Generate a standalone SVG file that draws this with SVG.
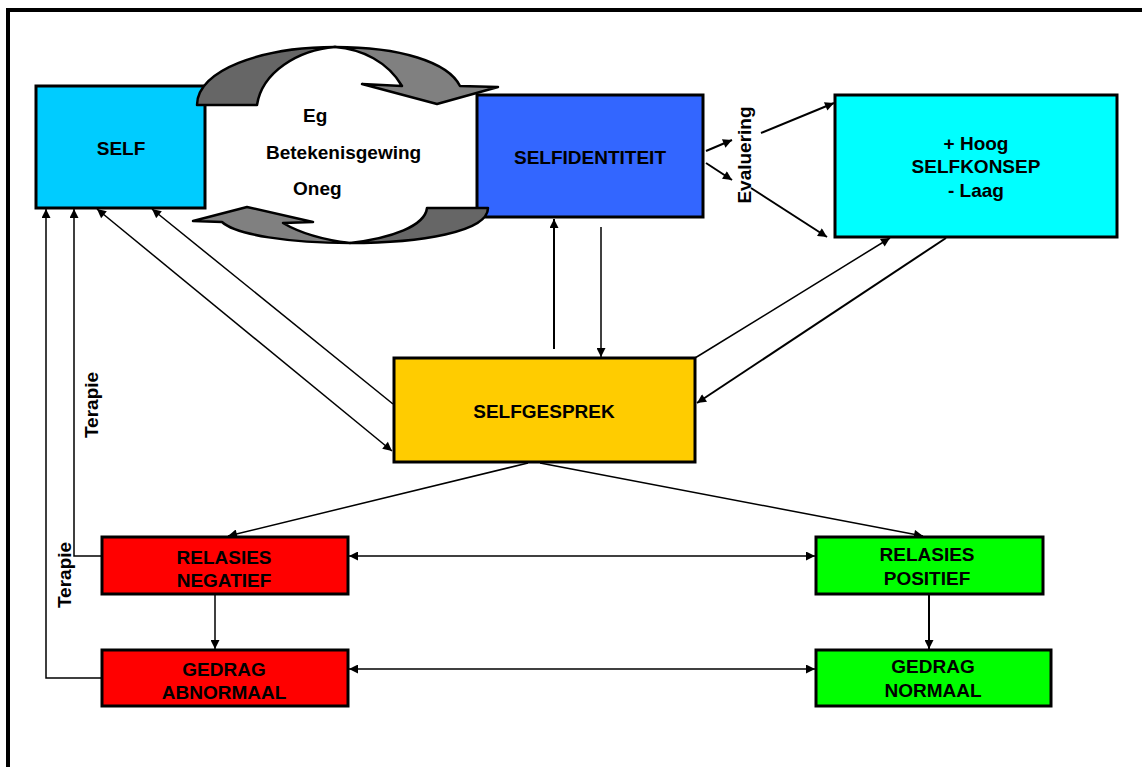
<svg xmlns="http://www.w3.org/2000/svg" width="1142" height="767" viewBox="0 0 1142 767">
  <style>
    text { font-family: "Liberation Sans", Arial, sans-serif; font-weight: bold; font-size: 19px; fill: #000; }
    .c { text-anchor: middle; }
    .box { stroke: #000; stroke-width: 3; }
    .link { fill: none; stroke: #000; stroke-width: 1.5; }
    .link2 { fill: none; stroke: #000; stroke-width: 2; }
    .cyc { stroke: #000; stroke-width: 2.5; stroke-linejoin: round; }
  </style>
  <defs>
    <marker id="arr" viewBox="0 0 10 10" refX="10" refY="5" markerUnits="userSpaceOnUse" markerWidth="11" markerHeight="9" orient="auto-start-reverse">
      <path d="M0,0 L10,5 L0,10 z" fill="#000"/>
    </marker>
  </defs>

  <rect width="1142" height="767" fill="#fff"/>

  <!-- page frame -->
  <path d="M8,767 V10 H1142" fill="none" stroke="#000" stroke-width="4"/>

  <!-- connectors -->
  <g id="connectors">
    <!-- SELFIDENTITEIT to evaluation -->
    <line class="link2" x1="706" y1="151" x2="732" y2="140" marker-end="url(#arr)"/>
    <line class="link2" x1="706" y1="163" x2="732" y2="180" marker-end="url(#arr)"/>
    <line class="link2" x1="761" y1="133" x2="834" y2="103" marker-end="url(#arr)"/>
    <line class="link2" x1="751" y1="188" x2="827" y2="237" marker-end="url(#arr)"/>

    <!-- SELFIDENTITEIT <-> SELFGESPREK -->
    <line class="link2" x1="554" y1="349" x2="554" y2="219" marker-end="url(#arr)"/>
    <line class="link" x1="601" y1="227" x2="601" y2="357" marker-end="url(#arr)"/>

    <!-- SELFGESPREK <-> SELFKONSEP -->
    <line class="link" x1="695" y1="358" x2="890" y2="238" marker-end="url(#arr)"/>
    <line class="link2" x1="946" y1="238" x2="697" y2="403" marker-end="url(#arr)"/>

    <!-- SELFGESPREK <-> SELF -->
    <line class="link" x1="393" y1="404" x2="152" y2="209" marker-end="url(#arr)"/>
    <line class="link" x1="97" y1="209" x2="392" y2="451" marker-start="url(#arr)" marker-end="url(#arr)"/>

    <!-- therapy feedback to SELF -->
    <polyline class="link" points="101,556 74,556 74,209" marker-end="url(#arr)"/>
    <polyline class="link" points="101,678 46,678 46,209" marker-end="url(#arr)"/>

    <!-- SELFGESPREK to relations -->
    <line class="link" x1="528" y1="463" x2="228" y2="536" marker-end="url(#arr)"/>
    <line class="link" x1="540" y1="463" x2="923" y2="536" marker-end="url(#arr)"/>

    <!-- relations to behaviour -->
    <line class="link" x1="215" y1="595" x2="215" y2="649" marker-end="url(#arr)"/>
    <line class="link2" x1="929" y1="595" x2="929" y2="649" marker-end="url(#arr)"/>

    <!-- negative <-> positive -->
    <line class="link" x1="349" y1="556" x2="815" y2="556" marker-start="url(#arr)" marker-end="url(#arr)"/>
    <line class="link" x1="349" y1="669" x2="815" y2="669" marker-start="url(#arr)" marker-end="url(#arr)"/>

    <text transform="translate(98,405) rotate(-90)" class="c">Terapie</text>
    <text transform="translate(71,575) rotate(-90)" class="c">Terapie</text>
    <text transform="translate(751,155) rotate(-90)" class="c">Evaluering</text>
  </g>

  <g id="self">
    <rect class="box" x="36" y="86" width="169" height="122" fill="#00CCFF"/>
    <text class="c" x="121" y="155">SELF</text>
  </g>

  <g id="selfidentiteit">
    <rect class="box" x="477" y="95" width="226" height="122" fill="#3366FF"/>
    <text class="c" x="590" y="164">SELFIDENTITEIT</text>
  </g>

  <g id="selfkonsep">
    <rect class="box" x="835" y="95" width="282" height="142" fill="#00FFFF"/>
    <text class="c" x="976" y="150">+ Hoog</text>
    <text class="c" x="976" y="173">SELFKONSEP</text>
    <text class="c" x="976" y="197">- Laag</text>
  </g>

  <g id="selfgesprek">
    <rect class="box" x="394" y="358" width="301" height="104" fill="#FFCC00"/>
    <text class="c" x="544" y="418">SELFGESPREK</text>
  </g>

  <g id="relasies-negatief">
    <rect class="box" x="102" y="537" width="246" height="57" fill="#FF0000"/>
    <text class="c" x="224" y="564">RELASIES</text>
    <text class="c" x="224" y="587">NEGATIEF</text>
  </g>

  <g id="gedrag-abnormaal">
    <rect class="box" x="102" y="650" width="246" height="56" fill="#FF0000"/>
    <text class="c" x="224" y="676">GEDRAG</text>
    <text class="c" x="224" y="699">ABNORMAAL</text>
  </g>

  <g id="relasies-positief">
    <rect class="box" x="816" y="537" width="227" height="57" fill="#00FF00"/>
    <text class="c" x="927" y="561">RELASIES</text>
    <text class="c" x="927" y="585">POSITIEF</text>
  </g>

  <g id="gedrag-normaal">
    <rect class="box" x="816" y="650" width="235" height="56" fill="#00FF00"/>
    <text class="c" x="933" y="673">GEDRAG</text>
    <text class="c" x="933" y="697">NORMAAL</text>
  </g>

  <!-- curved "meaning-making" cycle arrows, drawn over the box corners -->
  <g id="cycle">
    <path class="cyc" fill="#666666" d="M197,105 C197,70 262,47 335,47 C298,50 262,72 257,105 Z"/>
    <path class="cyc" fill="#808080" d="M335,47 C400,47 448,62 460,86 L498,87 L437,104 L362,84 L402,86 C388,62 362,49 335,47 Z"/>
    <path class="cyc" fill="#666666" d="M488,208 C488,232 420,243 350,243 C392,238 425,226 427,208 Z"/>
    <path class="cyc" fill="#808080" d="M350,243 C290,243 236,235 222,222 L193,221 L247,207 L313,222 L283,223 C300,233 325,240 350,243 Z"/>
    <text x="303" y="122">Eg</text>
    <text x="266" y="159">Betekenisgewing</text>
    <text x="293" y="195">Oneg</text>
  </g>
</svg>
